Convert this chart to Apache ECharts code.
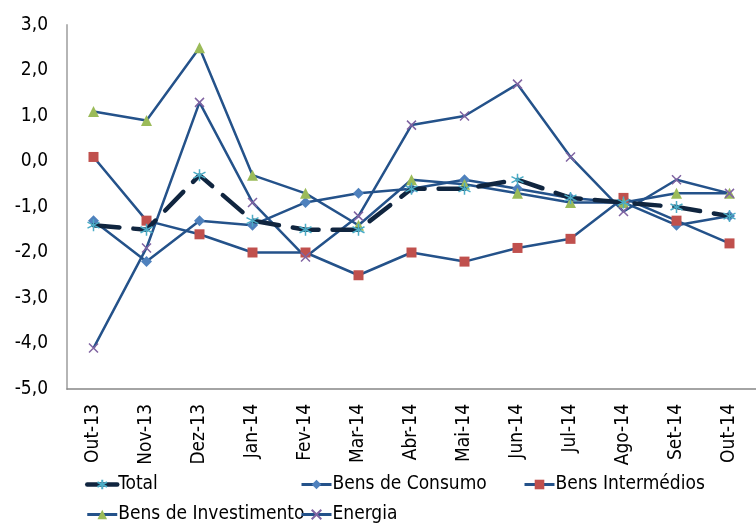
<!DOCTYPE html>
<html>
<head>
<meta charset="utf-8">
<script src="https://cdn.jsdelivr.net/npm/echarts@6/dist/echarts.min.js"></script>
<style>
html,body{margin:0;padding:0;background:#fff;}
#chart{width:756px;height:523px;}
</style>
</head>
<body>
<div id="chart"></div>
<script>
const categories = ['Out-13','Nov-13','Dez-13','Jan-14','Fev-14','Mar-14','Abr-14','Mai-14','Jun-14','Jul-14','Ago-14','Set-14','Out-14'];
const total = [-1.4,-1.5,-0.3,-1.3,-1.5,-1.5,-0.6,-0.6,-0.4,-0.8,-0.9,-1.0,-1.2];
const bensConsumo = [-1.3,-2.2,-1.3,-1.4,-0.9,-0.7,-0.6,-0.4,-0.6,-0.8,-0.9,-1.4,-1.2];
const bensIntermedios = [0.1,-1.3,-1.6,-2.0,-2.0,-2.5,-2.0,-2.2,-1.9,-1.7,-0.8,-1.3,-1.8];
const bensInvestimento = [1.1,0.9,2.5,-0.3,-0.7,-1.4,-0.4,-0.5,-0.7,-0.9,-0.9,-0.7,-0.7];
const energia = [-4.1,-1.9,1.3,-0.9,-2.1,-1.2,0.8,1.0,1.7,0.1,-1.1,-0.4,-0.7];
const yTicks = {min: -5, max: 3, interval: 1};

const FONT = "'DejaVu Sans Condensed', 'DejaVu Sans', sans-serif";
const LINE = '#24528A';
const ASTER = 'path://M10,0L10,20M1.34,5L18.66,15M1.34,15L18.66,5';
const XMARK = 'path://M0,0L10,10M0,10L10,0';

const chart = echarts.init(document.getElementById('chart'), null, {renderer: 'canvas'});

function legendCfg(left, names) {
  return {
    orient: 'vertical', left: left, top: 475, height: 60,
    padding: 0,
    itemWidth: 30, itemHeight: 12, itemGap: 11,
    textStyle: {fontFamily: FONT, fontSize: 19, color: '#000', lineHeight: 18, padding: [0,0,0,-4]},
    data: names.map(n => ({name: n, lineStyle: {width: n === 'Total' ? 4.5 : 3, type: 'solid'}})),
    selectedMode: false
  };
}

chart.setOption({
  animation: false,
  backgroundColor: '#fff',
  grid: {left: 67, right: -13, top: 25, bottom: 134, containLabel: false},
  legend: [
    legendCfg(85, ['Total', 'Bens de Investimento']),
    legendCfg(300, ['Bens de Consumo', 'Energia']),
    legendCfg(523, ['Bens Intermédios'])
  ],
  xAxis: [
    {
      type: 'category', data: categories, boundaryGap: true,
      axisLine: {show: false}, axisTick: {show: false},
      axisLabel: {rotate: 90, margin: 15, fontFamily: FONT, fontSize: 19, color: '#000', interval: 0}
    },
    {
      type: 'category', data: categories, boundaryGap: true, position: 'bottom',
      axisLine: {show: true, onZero: true, lineStyle: {color: '#878787', width: 1.5}},
      axisTick: {show: false}, axisLabel: {show: false}
    }
  ],
  yAxis: {
    type: 'value', min: yTicks.min, max: yTicks.max, interval: yTicks.interval,
    axisLine: {show: true, lineStyle: {color: '#B5B5B5', width: 2}},
    axisTick: {show: false},
    splitLine: {show: false},
    axisLabel: {
      margin: 19, fontFamily: FONT, fontSize: 19, color: '#000',
      formatter: v => v.toFixed(1).replace('.', ',')
    }
  },
  series: [
    {
      name: 'Total', type: 'line', data: total, z: 5,
      symbol: ASTER, symbolSize: 12,
      lineStyle: {color: '#10253F', width: 4.5, type: [26, 14], cap: 'round'},
      itemStyle: {color: '#4BACC6', borderColor: '#4BACC6', borderWidth: 1.5}
    },
    {
      name: 'Bens de Consumo', type: 'line', data: bensConsumo, z: 3,
      symbol: 'diamond', symbolSize: 11,
      lineStyle: {color: LINE, width: 2.5},
      itemStyle: {color: '#4F81BD'}
    },
    {
      name: 'Bens Intermédios', type: 'line', data: bensIntermedios, z: 3,
      symbol: 'rect', symbolSize: 10,
      lineStyle: {color: LINE, width: 2.5},
      itemStyle: {color: '#C0504D'}
    },
    {
      name: 'Bens de Investimento', type: 'line', data: bensInvestimento, z: 3,
      symbol: 'triangle', symbolSize: 11,
      lineStyle: {color: LINE, width: 2.5},
      itemStyle: {color: '#9BBB59'}
    },
    {
      name: 'Energia', type: 'line', data: energia, z: 3,
      symbol: XMARK, symbolSize: 9,
      lineStyle: {color: LINE, width: 2.5},
      itemStyle: {color: '#8064A2', borderColor: '#8064A2', borderWidth: 1.5}
    }
  ]
});
</script>
</body>
</html>
